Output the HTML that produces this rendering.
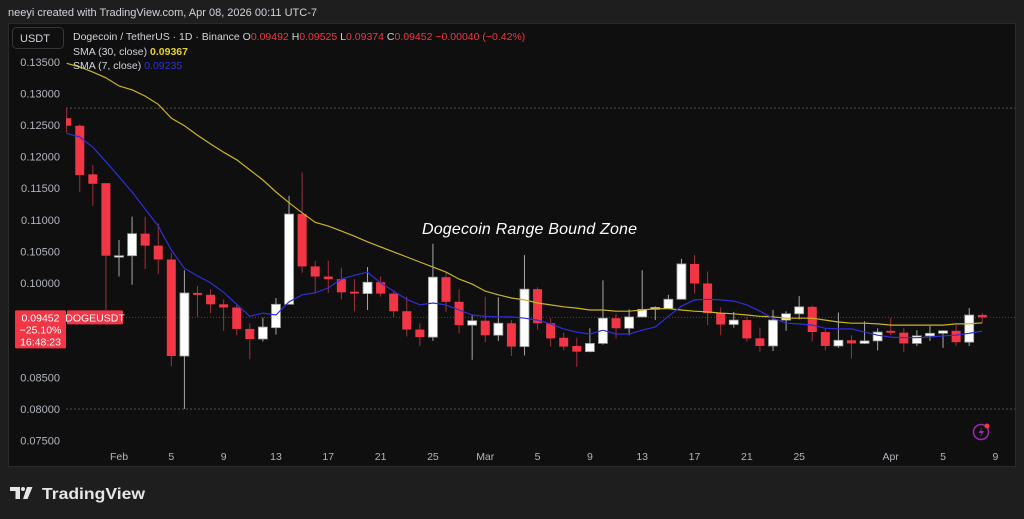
<!DOCTYPE html>
<html><head><meta charset="utf-8"><style>
html,body{margin:0;padding:0;background:#1e1e1e;}
svg{display:block;font-family:"Liberation Sans",sans-serif;}
</style></head><body>
<svg id="chart" width="1024" height="519" viewBox="0 0 1024 519" xmlns="http://www.w3.org/2000/svg">
<rect x="0" y="0" width="1024" height="519" fill="#1e1e1e"/>
<text x="8" y="16" font-size="11" fill="#d1d4dc">neeyi created with TradingView.com, Apr 08, 2026 00:11 UTC-7</text>
<rect x="8.5" y="23.5" width="1007" height="443" fill="#0f0f0f" stroke="#2a2a2a"/>
<g id="grid"></g>
<g id="yaxis"></g>
<g id="xaxis"></g>
<defs><clipPath id="plotclip"><rect x="66" y="24" width="949" height="420"/></clipPath></defs>
<g id="plot" clip-path="url(#plotclip)"></g>
<rect x="12.5" y="27.5" width="51" height="21" rx="4" fill="#0f0f0f" stroke="#363636"/>
<text x="20" y="42" font-size="11" fill="#d1d4dc">USDT</text>
<text x="73" y="40" font-size="10.5" fill="#d1d4dc">Dogecoin / TetherUS · 1D · Binance <tspan fill="#d1d4dc"> O</tspan><tspan fill="#f23645">0.09492</tspan><tspan fill="#d1d4dc"> H</tspan><tspan fill="#f23645">0.09525</tspan><tspan fill="#d1d4dc"> L</tspan><tspan fill="#f23645">0.09374</tspan><tspan fill="#d1d4dc"> C</tspan><tspan fill="#f23645">0.09452</tspan><tspan fill="#f23645"> −0.00040 (−0.42%)</tspan></text>
<text x="73" y="55" font-size="10.5" fill="#d1d4dc">SMA (30, close) <tspan fill="#e8d21d" font-weight="bold">0.09367</tspan></text>
<text x="73" y="69" font-size="10.5" fill="#d1d4dc">SMA (7, close) <tspan fill="#3030e0">0.09235</tspan></text>
<text x="422" y="234" font-size="16" font-style="italic" fill="#ffffff" textLength="215">Dogecoin Range Bound Zone</text>
<g id="pricebox"></g>
<g><circle cx="981" cy="432" r="7.5" fill="none" stroke="#9c27b0" stroke-width="1.5"/><path d="M982.5 427 L978.5 433 L981.5 433 L980 437.5 L984 431 L981 431 Z" fill="#9c27b0"/><circle cx="987" cy="426" r="2.5" fill="#f23645"/></g>
<g><path d="M10 487 h10 v12 h-4.5 v-8 h-5.5 z" fill="#e6e6e6"/><circle cx="23" cy="489" r="2" fill="#e6e6e6"/><path d="M27 487 h5.5 l-5 12 h-4.5 z" fill="#e6e6e6"/><text x="42" y="499" font-size="16" font-weight="bold" fill="#e6e6e6" textLength="103" lengthAdjust="spacingAndGlyphs">TradingView</text></g>
</svg>
<script>
const dayOffsets=[-4,-3,-2,-1,0,1,2,3,4,5,6,7,8,9,10,11,12,13,14,15,16,17,18,19,20,21,22,23,24,25,26,27,28,29,30,31,32,33,34,35,36,37,38,39,40,41,42,43,44,45,46,47,48,49,50,51,52,53,54,55,56,57,58,59,60,61,62,63,64,65,66];
const opens=[0.1261,0.1249,0.1172,0.1158,0.1042,0.1043,0.1078,0.1059,0.1037,0.0884,0.0984,0.0981,0.0966,0.0961,0.0927,0.0911,0.0929,0.0966,0.1109,0.1026,0.1010,0.1006,0.0986,0.0983,0.1001,0.0983,0.0955,0.0926,0.0914,0.1009,0.0970,0.0933,0.0940,0.0917,0.0936,0.0899,0.0990,0.0936,0.0913,0.0900,0.0891,0.0904,0.0944,0.0928,0.0946,0.0958,0.0959,0.0974,0.1030,0.0999,0.0952,0.0934,0.0941,0.0912,0.0900,0.0941,0.0951,0.0962,0.0922,0.0900,0.0909,0.0904,0.0908,0.0924,0.0921,0.0904,0.0916,0.0920,0.0924,0.0906,0.09492];
const highs=[0.1277,0.1251,0.1187,0.1158,0.1068,0.1105,0.1105,0.1094,0.1047,0.1020,0.0995,0.0990,0.0974,0.0965,0.0936,0.0945,0.0976,0.1138,0.1175,0.1035,0.1035,0.1024,0.1006,0.1025,0.1010,0.0988,0.0978,0.0936,0.1062,0.1017,0.0990,0.0949,0.0978,0.0977,0.0941,0.1044,0.0993,0.0944,0.0921,0.0913,0.0928,0.1004,0.0951,0.0958,0.1020,0.0963,0.0981,0.1038,0.1044,0.1018,0.0961,0.0954,0.0946,0.0929,0.0957,0.0955,0.0979,0.0964,0.0927,0.0953,0.0917,0.0939,0.0928,0.0944,0.0928,0.0925,0.0932,0.0925,0.0933,0.0960,0.09525];
const lows=[0.1238,0.1144,0.1122,0.0957,0.1010,0.0997,0.1022,0.1014,0.0868,0.0800,0.0946,0.0952,0.0924,0.0917,0.0879,0.0907,0.0918,0.0966,0.1016,0.0984,0.0984,0.0974,0.0955,0.0957,0.0978,0.0946,0.0915,0.0900,0.0908,0.0954,0.0920,0.0878,0.0906,0.0908,0.0884,0.0885,0.0926,0.0899,0.0893,0.0867,0.0890,0.0902,0.0912,0.0917,0.0945,0.0941,0.0959,0.0974,0.0983,0.0933,0.0917,0.0929,0.0907,0.0891,0.0892,0.0924,0.0942,0.0907,0.0893,0.0897,0.0880,0.0903,0.0893,0.0917,0.0890,0.0900,0.0908,0.0897,0.0900,0.0900,0.09374];
const closes=[0.1249,0.1171,0.1157,0.1043,0.1043,0.1078,0.1059,0.1037,0.0884,0.0984,0.0981,0.0966,0.0961,0.0927,0.0911,0.0930,0.0966,0.1109,0.1026,0.1010,0.1006,0.0985,0.0983,0.1001,0.0983,0.0955,0.0926,0.0914,0.1009,0.0970,0.0933,0.0940,0.0917,0.0936,0.0899,0.0990,0.0936,0.0912,0.0899,0.0891,0.0904,0.0944,0.0928,0.0946,0.0958,0.0961,0.0974,0.1030,0.0999,0.0952,0.0934,0.0941,0.0912,0.0900,0.0941,0.0951,0.0962,0.0922,0.0900,0.0909,0.0904,0.0908,0.0922,0.0921,0.0904,0.0916,0.0920,0.0924,0.0906,0.0949,0.09452];
const sma7=[0.1237,0.1231,0.1215,0.1192,0.1168,0.1144,0.1117,0.1090,0.1052,0.1023,0.1011,0.1000,0.0985,0.0966,0.0947,0.0952,0.0949,0.0970,0.0981,0.0984,0.0992,0.1006,0.1012,0.1017,0.1000,0.0987,0.0974,0.0965,0.0968,0.0965,0.0957,0.0949,0.0947,0.0946,0.0946,0.0944,0.0941,0.0935,0.0927,0.0922,0.0919,0.0925,0.0919,0.0919,0.0925,0.0930,0.0947,0.0963,0.0973,0.0974,0.0973,0.0971,0.0965,0.0955,0.0944,0.0936,0.0935,0.0933,0.0928,0.0927,0.0927,0.0922,0.0917,0.0914,0.0913,0.0913,0.0914,0.0916,0.0917,0.0920,0.09235];
const sma30=[0.1348,0.1342,0.1334,0.1325,0.1312,0.1306,0.1296,0.1283,0.1261,0.1249,0.1234,0.1220,0.1207,0.1195,0.1179,0.1163,0.1144,0.1127,0.1111,0.1096,0.1090,0.1082,0.1074,0.1065,0.1057,0.1049,0.1041,0.1033,0.1025,0.1017,0.1006,0.0998,0.0987,0.0981,0.0976,0.0973,0.0968,0.0965,0.0962,0.0960,0.0957,0.0957,0.0955,0.0955,0.0957,0.0959,0.0959,0.0957,0.0955,0.0954,0.0952,0.0951,0.0949,0.0947,0.0946,0.0944,0.0944,0.0944,0.0941,0.0938,0.0936,0.0936,0.0935,0.0933,0.0933,0.0933,0.0933,0.0933,0.0935,0.0935,0.09367];
const priceTicks=[0.135,0.13,0.125,0.12,0.115,0.11,0.105,0.1,0.085,0.08,0.075];
const dateTickLabels=["Feb","5","9","13","17","21","25","Mar","5","9","13","17","21","25","Apr","5","9"];
const dateTickDays=[0,4,8,12,16,20,24,28,32,36,40,44,48,52,59,63,67];
const lastPrice=0.09452;
const rangeHigh=0.1277;

const NS="http://www.w3.org/2000/svg";
function yScale(p){return 62+(0.135-p)/0.005*31.55;}
function xScale(d){return 119+d*13.08;}
function mk(tag,attrs,parent){const e=document.createElementNS(NS,tag);for(const k in attrs)e.setAttribute(k,attrs[k]);parent.appendChild(e);return e;}
const grid=document.getElementById('grid'),yaxis=document.getElementById('yaxis'),xaxis=document.getElementById('xaxis'),plot=document.getElementById('plot'),pb=document.getElementById('pricebox');

priceTicks.forEach(p=>{
  const t=mk('text',{x:60,y:yScale(p)+4,'font-size':11,fill:'#b2b5be','text-anchor':'end'},yaxis);
  
  
  t.textContent=p.toFixed(5);
});
dateTickLabels.forEach((l,i)=>{
  const t=mk('text',{x:xScale(dateTickDays[i]),y:460,'font-size':10.5,fill:'#b2b5be','text-anchor':'middle'},xaxis);
  
  
  t.textContent=l;
});
[rangeHigh,0.08].forEach(p=>{
  const l=mk('line',{x1:66,x2:1015,y1:yScale(p),y2:yScale(p),stroke:'#555','stroke-dasharray':'2 2','stroke-width':1},grid);
  
  
});
const pl=mk('line',{x1:66,x2:1015,y1:yScale(lastPrice),y2:yScale(lastPrice),stroke:'#8a2a33','stroke-dasharray':'1 2','stroke-width':1},grid);



opens.forEach((o,i)=>{
  const c=closes[i],x=xScale(dayOffsets[i]),up=c>=o;
  const w=mk('line',{x1:x,x2:x,y1:yScale(highs[i]),y2:yScale(lows[i]),stroke:up?'#a8a8a8':'#a3303b','stroke-width':1},plot);
  
  
  const top=yScale(Math.max(o,c)),bot=yScale(Math.min(o,c));
  const b=mk('rect',{x:x-4.5,y:top,width:9,height:Math.max(1.5,bot-top),fill:up?'#ffffff':'#f23645',stroke:up?'#9a9a9a':'none','stroke-width':up?0.8:0},plot);
  
  
});
function linePath(arr){return arr.map((v,i)=>(i?'L':'M')+xScale(dayOffsets[i]).toFixed(1)+' '+yScale(v).toFixed(1)).join(' ');}
const s30=mk('path',{d:linePath(sma30),fill:'none',stroke:'#c9b521','stroke-width':1.2},plot);


const s7=mk('path',{d:linePath(sma7),fill:'none',stroke:'#2f2fd8','stroke-width':1.2},plot);



const py=yScale(lastPrice);
const r1=mk('rect',{x:15,y:py-7,width:51,height:38,fill:'#f23645',rx:1},pb);


[[lastPrice.toFixed(5),py+4],['−25.10%',py+16],['16:48:23',py+28]].forEach(a=>{
  const t=mk('text',{x:40.5,y:a[1],'font-size':10.5,fill:'#ffffff','text-anchor':'middle'},pb);
  
  
  t.textContent=a[0];
});
const r2=mk('rect',{x:67,y:py-7,width:56,height:14,fill:'#f23645',rx:1},pb);


const st=mk('text',{x:95,y:py+4,'font-size':10.5,fill:'#ffffff','text-anchor':'middle'},pb);


st.textContent='DOGEUSDT';
</script>
</body></html>
